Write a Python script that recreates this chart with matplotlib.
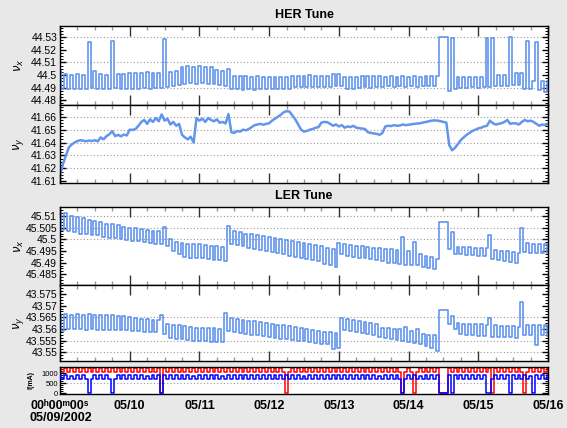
import matplotlib
matplotlib.use("Agg")
import matplotlib.pyplot as plt
from matplotlib.ticker import MultipleLocator, FixedLocator
from matplotlib import font_manager

# ---------------- data (hourly samples, 05/09/2002 00:00 -> 05/16 00:00) ----------------
hours = list(range(169))

her_nux = [
    44.5040, 44.4890, 44.5005, 44.4888, 44.5003, 44.4887, 44.5005, 44.4890, 44.5000, 44.4888, 44.5265, 44.4895,
    44.5030, 44.4890, 44.5005, 44.4888, 44.5002, 44.4890, 44.5270, 44.4895, 44.5010, 44.4890, 44.5005, 44.4892,
    44.5020, 44.4893, 44.5018, 44.4892, 44.5020, 44.4895, 44.5022, 44.4893, 44.5018, 44.4895, 44.5020, 44.4900,
    44.5288, 44.4905, 44.5025, 44.4910, 44.5030, 44.4920, 44.5065, 44.4932, 44.5068, 44.4935, 44.5066, 44.4933,
    44.5070, 44.4935, 44.5065, 44.4932, 44.5060, 44.4930, 44.5040, 44.4925, 44.5030, 44.4915, 44.5045, 44.4890,
    44.4995, 44.4888, 44.4990, 44.4885, 44.4992, 44.4887, 44.4988, 44.4885, 44.4990, 44.4887, 44.4988, 44.4888,
    44.4985, 44.4890, 44.4987, 44.4888, 44.4985, 44.4887, 44.4986, 44.4890, 44.4995, 44.4905, 44.4996, 44.4903,
    44.4995, 44.4905, 44.4997, 44.4904, 44.4995, 44.4906, 44.4996, 44.4905, 44.4995, 44.4907, 44.5010, 44.4915,
    44.5012, 44.4912, 44.4985, 44.4888, 44.4986, 44.4890, 44.4985, 44.4900, 44.4992, 44.4902, 44.4993, 44.4900,
    44.4992, 44.4903, 44.4990, 44.4908, 44.4988, 44.4910, 44.4989, 44.4908, 44.4988, 44.4910, 44.4989, 44.4909,
    44.4988, 44.4910, 44.4990, 44.4908, 44.4988, 44.4910, 44.4989, 44.4910, 44.4990, 44.4912, 44.4995, 44.5300,
    44.5300, 44.5300, 44.4875, 44.5290, 44.4890, 44.4988, 44.4900, 44.4988, 44.4900, 44.4987, 44.4902, 44.4988,
    44.4900, 44.4988, 44.4902, 44.5290, 44.4905, 44.5290, 44.4910, 44.4998, 44.4910, 44.4998, 44.4912, 44.5300,
    44.4925, 44.5020, 44.4925, 44.5020, 44.4887, 44.5266, 44.4886, 44.4953, 44.5258, 44.4885, 44.4953, 44.4865,
    44.4950,
]

her_nuy = [
    41.6143, 41.6233, 41.6297, 41.6361, 41.6385, 41.6400, 41.6412, 41.6418, 41.6415, 41.6410, 41.6416, 41.6412,
    41.6418, 41.6410, 41.6440, 41.6425, 41.6450, 41.6465, 41.6488, 41.6450, 41.6460, 41.6448, 41.6462, 41.6455,
    41.6500, 41.6498, 41.6505, 41.6530, 41.6560, 41.6575, 41.6545, 41.6580, 41.6560, 41.6590, 41.6565, 41.6618,
    41.6570, 41.6585, 41.6540, 41.6560, 41.6530, 41.6545, 41.6460, 41.6440, 41.6425, 41.6445, 41.6400, 41.6590,
    41.6570, 41.6585, 41.6560, 41.6590, 41.6575, 41.6565, 41.6580, 41.6554, 41.6560, 41.6548, 41.6620, 41.6480,
    41.6475, 41.6490, 41.6485, 41.6500, 41.6495, 41.6505, 41.6520, 41.6535, 41.6540, 41.6545, 41.6538, 41.6545,
    41.6550, 41.6570, 41.6585, 41.6600, 41.6615, 41.6635, 41.6643, 41.6640, 41.6610, 41.6580, 41.6540, 41.6500,
    41.6485, 41.6490, 41.6500, 41.6505, 41.6515, 41.6520, 41.6555, 41.6560, 41.6558, 41.6545, 41.6530, 41.6540,
    41.6525, 41.6535, 41.6515, 41.6525, 41.6520, 41.6530, 41.6515, 41.6512, 41.6508, 41.6505, 41.6480, 41.6475,
    41.6470, 41.6468, 41.6460, 41.6475, 41.6525, 41.6530, 41.6528, 41.6535, 41.6530, 41.6532, 41.6540, 41.6535,
    41.6538, 41.6542, 41.6545, 41.6548, 41.6550, 41.6555, 41.6560, 41.6565, 41.6570, 41.6572, 41.6570, 41.6565,
    41.6560, 41.6555, 41.6380, 41.6340, 41.6360, 41.6390, 41.6420, 41.6440, 41.6460, 41.6475, 41.6490, 41.6500,
    41.6510, 41.6515, 41.6525, 41.6530, 41.6570, 41.6550, 41.6540, 41.6545, 41.6550, 41.6560, 41.6575, 41.6545,
    41.6550, 41.6548, 41.6540, 41.6560, 41.6575, 41.6565, 41.6570, 41.6560, 41.6545, 41.6530, 41.6540, 41.6535,
    41.6545,
]

ler_nux = [
    45.5118, 45.5040, 45.5112, 45.5035, 45.5100, 45.5030, 45.5095, 45.5025, 45.5090, 45.5022, 45.5082, 45.5020,
    45.5078, 45.5018, 45.5074, 45.5012, 45.5068, 45.5008, 45.5065, 45.5005, 45.5060, 45.5002, 45.5055, 45.4998,
    45.5050, 45.4995, 45.5048, 45.4992, 45.5045, 45.4990, 45.5040, 45.4985, 45.5038, 45.4980, 45.5035, 45.4978,
    45.5055, 45.4972, 45.5000, 45.4950, 45.4990, 45.4938, 45.4985, 45.4925, 45.4982, 45.4922, 45.4980, 45.4920,
    45.4978, 45.4918, 45.4975, 45.4915, 45.4972, 45.4912, 45.4970, 45.4910, 45.4968, 45.4908, 45.5057, 45.4980,
    45.5035, 45.4975, 45.5030, 45.4970, 45.5025, 45.4965, 45.5022, 45.4960, 45.5018, 45.4955, 45.5015, 45.4950,
    45.5010, 45.4945, 45.5005, 45.4940, 45.5000, 45.4935, 45.4998, 45.4930, 45.4995, 45.4925, 45.4990, 45.4920,
    45.4985, 45.4915, 45.4980, 45.4910, 45.4975, 45.4905, 45.4970, 45.4895, 45.4965, 45.4888, 45.4960, 45.4882,
    45.4985, 45.4935, 45.4978, 45.4930, 45.4975, 45.4925, 45.4972, 45.4922, 45.4970, 45.4918, 45.4968, 45.4915,
    45.4965, 45.4910, 45.4963, 45.4905, 45.4960, 45.4900, 45.4958, 45.4898, 45.4955, 45.4895, 45.5011, 45.4892,
    45.4950, 45.4890, 45.4990, 45.4888, 45.4935, 45.4882, 45.4930, 45.4878, 45.4925, 45.4872, 45.4915, 45.5073,
    45.5073, 45.5073, 45.4960, 45.5033, 45.4935, 45.4968, 45.4935, 45.4968, 45.4933, 45.4966, 45.4932, 45.4965,
    45.4930, 45.4964, 45.4928, 45.4962, 45.5019, 45.4915, 45.4955, 45.4910, 45.4950, 45.4905, 45.4948, 45.4903,
    45.4945, 45.4900, 45.4942, 45.5049, 45.4945, 45.4985, 45.4942, 45.4982, 45.4940, 45.4980, 45.4940, 45.4978,
    45.4942,
]

ler_nuy = [
    43.5660, 43.5590, 43.5665, 43.5598, 43.5662, 43.5600, 43.5664, 43.5598, 43.5660, 43.5597, 43.5663, 43.5598,
    43.5660, 43.5596, 43.5662, 43.5597, 43.5658, 43.5595, 43.5662, 43.5596, 43.5656, 43.5595, 43.5655, 43.5594,
    43.5652, 43.5593, 43.5646, 43.5590, 43.5644, 43.5588, 43.5642, 43.5587, 43.5640, 43.5585, 43.5638, 43.5660,
    43.5580, 43.5620, 43.5562, 43.5618, 43.5558, 43.5615, 43.5555, 43.5612, 43.5552, 43.5608, 43.5550, 43.5605,
    43.5548, 43.5605, 43.5546, 43.5603, 43.5545, 43.5602, 43.5544, 43.5600, 43.5543, 43.5670, 43.5590, 43.5645,
    43.5585, 43.5642, 43.5582, 43.5640, 43.5578, 43.5636, 43.5575, 43.5632, 43.5572, 43.5628, 43.5568, 43.5625,
    43.5565, 43.5622, 43.5562, 43.5618, 43.5558, 43.5615, 43.5555, 43.5612, 43.5552, 43.5608, 43.5549, 43.5605,
    43.5546, 43.5600, 43.5543, 43.5596, 43.5540, 43.5592, 43.5537, 43.5588, 43.5534, 43.5585, 43.5515, 43.5582,
    43.5520, 43.5645, 43.5595, 43.5642, 43.5590, 43.5638, 43.5586, 43.5635, 43.5582, 43.5630, 43.5578, 43.5626,
    43.5574, 43.5622, 43.5565, 43.5605, 43.5560, 43.5602, 43.5556, 43.5600, 43.5552, 43.5598, 43.5548, 43.5610,
    43.5545, 43.5590, 43.5540, 43.5600, 43.5535, 43.5580, 43.5528, 43.5575, 43.5520, 43.5572, 43.5505, 43.5683,
    43.5683, 43.5683, 43.5620, 43.5657, 43.5600, 43.5625, 43.5580, 43.5623, 43.5575, 43.5622, 43.5572, 43.5620,
    43.5570, 43.5620, 43.5568, 43.5618, 43.5645, 43.5566, 43.5615, 43.5565, 43.5612, 43.5564, 43.5614, 43.5565,
    43.5612, 43.5563, 43.5610, 43.5714, 43.5575, 43.5618, 43.5572, 43.5615, 43.5530, 43.5615, 43.5572, 43.5616,
    43.5570,
]

ler_current = [
    1270, 1060, 1265, 1070, 1275, 1055, 1268, 1065, 1272, 1060, 1270, 1062, 1266, 1058, 1274, 1064, 1270, 1060, 1268, 1066, 1272, 1058, 1270, 1063,
    1268, 1061, 1273, 1057, 1269, 1064, 1271, 1060, 1267, 1062, 1274, 0, 1270, 1059, 1266, 1063, 1271, 1058, 1269, 1065, 1273, 1060, 1268, 1062,
    1270, 1058, 1272, 1064, 1267, 1060, 1271, 1062, 1269, 1057, 1274, 1063, 1268, 1060, 1270, 1065, 1266, 1059, 1272, 1061, 1269, 1064, 1271, 1058,
    1270, 1062, 1268, 1059, 1273, 1064, 0, 1060, 1271, 1063, 1267, 1058, 1272, 1061, 1269, 1065, 1270, 1057, 1274, 1062, 1268, 1060, 1271, 1063,
    1269, 1059, 1272, 1064, 1266, 1061, 1270, 1058, 1273, 1062, 1268, 1060, 1271, 1065, 1267, 1059, 1272, 1061, 1269, 1063, 1270, 1058, 0, 1062,
    1268, 1060, 0, 1063, 1271, 1058, 1269, 1064, 1272, 1060, 1267, 0, 0, 0, 1270, 1061, 1268, 1059, 1273, 1064, 1266, 1060, 1271, 1062,
    1269, 1058, 1272, 1063, 1268, 0, 1270, 1061, 1267, 1064, 1271, 1059, 1269, 1062, 1273, 1060, 0, 1063, 1270, 1058, 1268, 1064, 1271, 1060,
    1269,
]

her_current = [
    895, 705, 900, 700, 890, 710, 898, 702, 893, 706, 0, 700, 896, 708, 891, 703, 899, 705, 0, 701, 894, 707, 897, 704,
    892, 706, 899, 701, 895, 709, 890, 703, 897, 705, 893, 0, 898, 702, 891, 708, 896, 704, 900, 700, 894, 707, 889, 705,
    896, 703, 892, 708, 899, 701, 894, 706, 890, 704, 897, 709, 893, 702, 898, 705, 891, 707, 895, 700, 899, 704, 892, 706,
    894, 702, 897, 708, 891, 705, 899, 703, 893, 707, 896, 700, 890, 706, 898, 704, 892, 709, 895, 701, 897, 705, 893, 703,
    898, 706, 891, 702, 896, 708, 893, 704, 899, 700, 892, 707, 895, 703, 890, 705, 897, 709, 894, 701, 898, 703, 0, 706,
    893, 705, 897, 701, 890, 708, 896, 703, 899, 706, 892, 0, 0, 0, 895, 0, 898, 702, 891, 707, 896, 704, 893, 709,
    897, 704, 892, 0, 0, 706, 894, 701, 898, 708, 891, 0, 896, 703, 893, 707, 899, 705, 890, 0, 895, 706, 898, 702,
    894,
]

day_hours = [0, 24, 48, 72, 96, 120, 144, 168]
day_labels = ["00\u02b000\u1d5000\u02e2", "05/10", "05/11", "05/12", "05/13", "05/14", "05/15", "05/16"]
date_label = "05/09/2002"

p1_ticks = [44.48, 44.49, 44.50, 44.51, 44.52, 44.53]
p1_labels = ["44.48", "44.49", "44.5", "44.51", "44.52", "44.53"]
p1_grid = [44.49, 44.51, 44.53]
p2_ticks = [41.61, 41.62, 41.63, 41.64, 41.65, 41.66]
p2_labels = ["41.61", "41.62", "41.63", "41.64", "41.65", "41.66"]
p2_grid = [41.62, 41.63, 41.64, 41.65, 41.66]
p3_ticks = [45.485, 45.49, 45.495, 45.50, 45.505, 45.51]
p3_labels = ["45.485", "45.49", "45.495", "45.5", "45.505", "45.51"]
p3_grid = [45.50, 45.505, 45.51]
p4_ticks = [43.55, 43.555, 43.56, 43.565, 43.57, 43.575]
p4_labels = ["43.55", "43.555", "43.56", "43.565", "43.57", "43.575"]
p4_grid = [43.55, 43.555, 43.565]
p5_ticks = [0, 500, 1000]
p5_labels = ["0", "500", "1000"]
p5_grid = [500]

# ---------------- styling ----------------
plt.rcParams['font.family'] = ['Liberation Sans', 'DejaVu Sans']
installed = {f.name for f in font_manager.fontManager.ttflist}
TICKFONT = ['Liberation Sans Narrow', 'Liberation Sans'] if 'Liberation Sans Narrow' in installed else ['Liberation Sans']
BG = '#e8e8e8'
TUNE = '#6495ed'
W, H = 567, 428

fig = plt.figure(figsize=(W / 100, H / 100), dpi=100, facecolor=BG)


def box(top, bottom, left=60, right=548):
    return [left / W, 1 - bottom / H, (right - left) / W, (bottom - top) / H]


def style(ax, ylim, ticks, labels, grid, minor, xticks=True, lsize=7.5):
    ax.set_xlim(0, 168)
    ax.set_ylim(*ylim)
    ax.set_facecolor('white')
    for s in ax.spines.values():
        s.set_linewidth(1.0)
        s.set_color('black')
    ax.yaxis.set_major_locator(FixedLocator(ticks))
    ax.set_yticklabels(labels, fontfamily=TICKFONT, fontsize=lsize)
    ax.yaxis.set_minor_locator(MultipleLocator(minor))
    ax.tick_params(axis='y', which='both', direction='in', left=True, right=True,
                   pad=2, colors='black')
    ax.tick_params(axis='y', which='major', length=4, width=1.0)
    ax.tick_params(axis='y', which='minor', length=2, width=0.7)
    ax.set_xticks(day_hours)
    ax.xaxis.set_minor_locator(MultipleLocator(6))
    if xticks:
        ax.tick_params(axis='x', which='both', direction='in', top=True, bottom=True, labelbottom=False)
        ax.tick_params(axis='x', which='major', length=7, width=1.0, color='#333333')
        ax.tick_params(axis='x', which='minor', length=3, width=1.0, color='#999999')
    else:
        ax.tick_params(axis='x', which='both', length=0)
    for g in grid:
        ax.axhline(g, color='#999999', lw=0.8, ls=(0, (1, 2)), zorder=0.5)


ax1 = fig.add_axes(box(26, 105))
ax1.plot(hours, her_nux, color=TUNE, lw=1.2, drawstyle='steps-mid', zorder=2)
style(ax1, (44.4763, 44.5388), p1_ticks, p1_labels, p1_grid, 0.0025)

ax2 = fig.add_axes(box(105, 183))
ax2.plot(hours, her_nuy, color=TUNE, lw=1.8, zorder=2)
style(ax2, (41.6087, 41.6691), p2_ticks, p2_labels, p2_grid, 0.0025)

ax3 = fig.add_axes(box(207, 285))
ax3.plot(hours, ler_nux, color=TUNE, lw=1.2, drawstyle='steps-mid', zorder=2)
style(ax3, (45.4804, 45.5139), p3_ticks, p3_labels, p3_grid, 0.00125)

ax4 = fig.add_axes(box(285, 361))
ax4.plot(hours, ler_nuy, color=TUNE, lw=1.2, drawstyle='steps-mid', zorder=2)
style(ax4, (43.5462, 43.5789), p4_ticks, p4_labels, p4_grid, 0.00125)

ax5 = fig.add_axes(box(367, 394))
ax5.plot(hours, ler_current, color='#ff0000', lw=1.1, drawstyle='steps-mid', zorder=2)
ax5.plot(hours, her_current, color='#0000ff', lw=1.1, drawstyle='steps-mid', zorder=3)
style(ax5, (-35, 1315), p5_ticks, p5_labels, p5_grid, 100, xticks=False, lsize=5.5)
ax5.tick_params(axis='y', which='both', pad=1.5)
ax5.tick_params(axis='x', labelbottom=True, labelsize=9, pad=4)
ax5.set_xticklabels(day_labels, fontweight='bold')

# titles and axis labels
fig.text(304 / W, 1 - 15 / H, "HER Tune", ha='center', va='center', fontsize=9, fontweight='bold')
fig.text(304 / W, 1 - 196 / H, "LER Tune", ha='center', va='center', fontsize=9, fontweight='bold')
ylabels = [(r'$\nu_x$', (26 + 105) / 2), (r'$\nu_y$', (105 + 183) / 2),
           (r'$\nu_x$', (207 + 285) / 2), (r'$\nu_y$', (285 + 361) / 2)]
for txt, yc in ylabels:
    fig.text(19 / W, 1 - yc / H, txt, rotation=90, ha='center', va='center', fontsize=8.5)
fig.text(31 / W, 1 - 380 / H, "I(mA)", rotation=90, ha='center', va='center', fontsize=5, fontweight='bold')
fig.text(30 / W, 1 - 418 / H, date_label, ha='left', va='center', fontsize=9, fontweight='bold')

fig.savefig('out.png', dpi=100, facecolor=BG)
